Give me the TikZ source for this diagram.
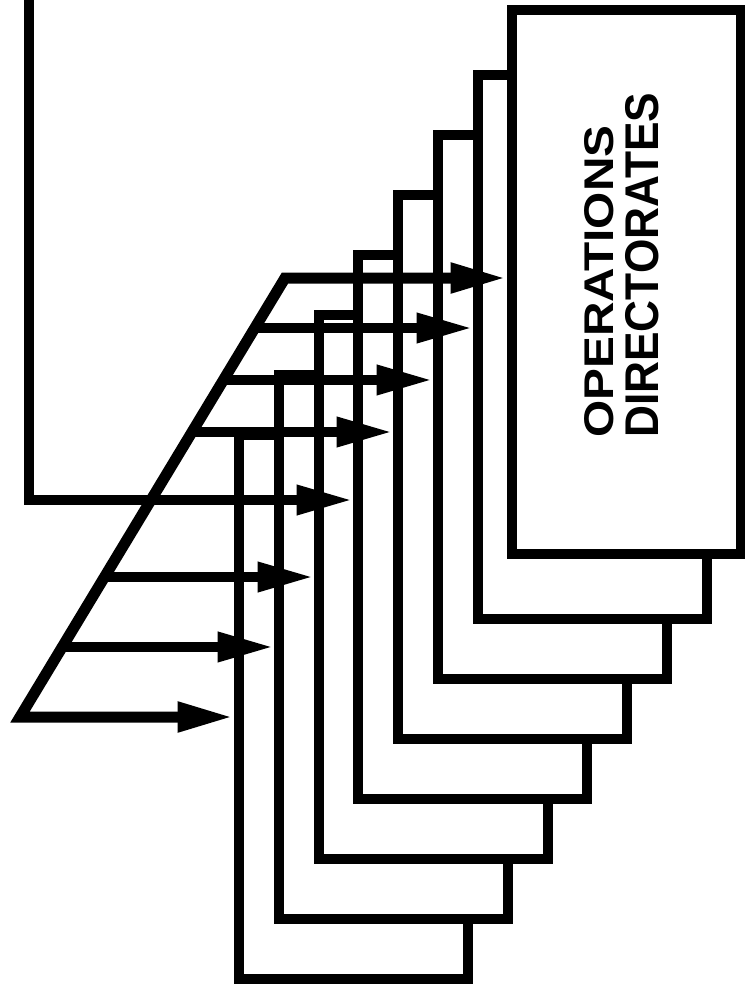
\documentclass[tikz,border=0pt]{standalone}
\usepackage{fontspec}
\setmainfont{Liberation Sans}
\usetikzlibrary{arrows.meta,calc}
\begin{document}
\begin{tikzpicture}[x=1pt,y=-1pt,
  opbox/.style={draw=black,fill=white,line width=10pt,rectangle,inner sep=0pt,
    minimum width=229pt,minimum height=544pt},
  feed/.style={draw=black,line width=10pt,-{Triangle[length=56pt,width=28pt]}},
  frame/.style={draw=black,line width=11pt,line join=miter},
  textlabel/.style={inner sep=0pt,align=left,font=\fontsize{2pt}{2pt}\bfseries\selectfont}
]
\useasboundingbox (0,0) rectangle (744,987);
% stacked boxes, back to front
\node[opbox] (b8) at (353,707) {};
\node[opbox] (b7) at (393,647) {};
\node[opbox] (b6) at (433,587) {};
\node[opbox] (b5) at (472,527) {};
\node[opbox] (b4) at (512,467) {};
\node[opbox] (b3) at (552,407) {};
\node[opbox] (b2) at (592,347) {};
\node[opbox] (b1) at (626,282) {};
\node[textlabel,rotate=90,anchor=north west] (lbl) at (584,438)
  {\resizebox{312pt}{29pt}{OPERATIONS}\\[11pt]\resizebox{345pt}{33pt}{DIRECTORATES}};
% slant frame
\coordinate (bl) at (20,717);
\coordinate (tc) at (285,278);
\coordinate (s2) at ($(bl)!0.8861!(tc)$);
\coordinate (s3) at ($(bl)!0.7677!(tc)$);
\coordinate (s4) at ($(bl)!0.6492!(tc)$);
\coordinate (s5) at ($(bl)!0.4943!(tc)$);
\coordinate (s6) at ($(bl)!0.3189!(tc)$);
\coordinate (s7) at ($(bl)!0.1595!(tc)$);
% left large box (open top)
\coordinate (lt) at (29,-12);
\draw[line width=10pt,line join=miter] (lt) -- (lt |- s5) -- (s5);
\draw[frame,{Triangle[length=56pt,width=28pt]}-{Triangle[length=56pt,width=28pt]}]
  (bl -| b8.west) -- (bl) -- (tc) -- (tc -| b1.west);
\draw[feed] (s2) -- (s2 -| b2.west);
\draw[feed] (s3) -- (s3 -| b3.west);
\draw[feed] (s4) -- (s4 -| b4.west);
\draw[feed] (s5) -- (s5 -| b5.west);
\draw[feed] (s6) -- (s6 -| b6.west);
\draw[feed] (s7) -- (s7 -| b7.west);
\end{tikzpicture}
\end{document}
